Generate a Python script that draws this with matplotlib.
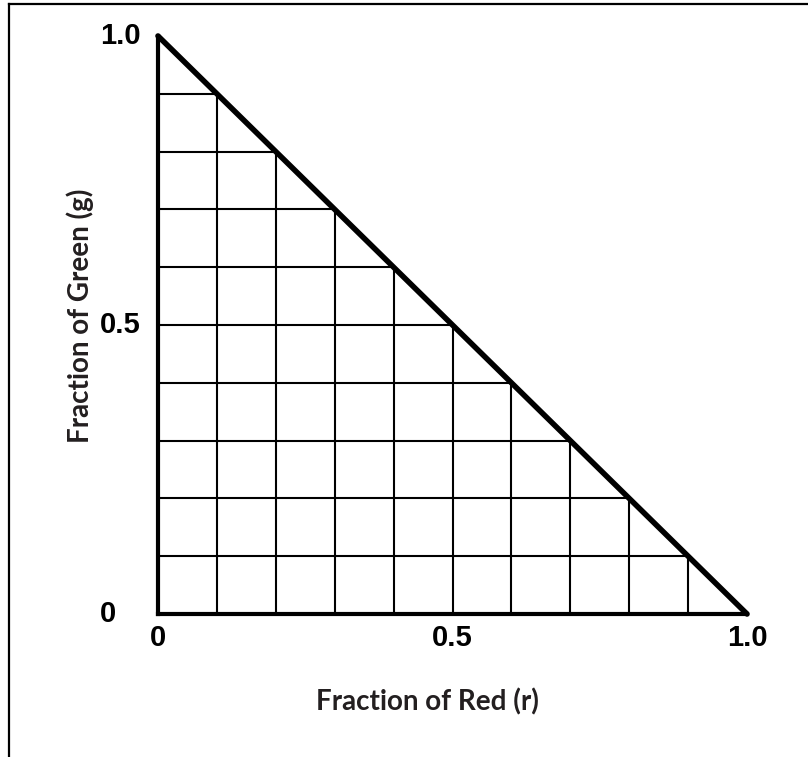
import matplotlib
matplotlib.use('Agg')
import matplotlib.pyplot as plt
from matplotlib.lines import Line2D

# chromaticity triangle, grid every 0.1
grid_vals = [0.1, 0.2, 0.3, 0.4, 0.5, 0.6, 0.7, 0.8, 0.9]
edge_r = [0.0, 1.0]
edge_g = [1.0, 0.0]
tick_vals = [0, 0.5, 1.0]
tick_labels = ['0', '0.5', '1.0']
xlabel = 'Fraction of Red (r)'
ylabel = 'Fraction of Green (g)'

W, H = 808, 757
fig = plt.figure(figsize=(W / 100, H / 100), dpi=100)
ax = fig.add_axes([158 / W, 1 - 614 / H, 589 / W, 578 / H])
ax.set_xlim(0, 1)
ax.set_ylim(0, 1)
ax.axis('off')

# grid lines stop at the diagonal
for v in grid_vals:
    ax.plot([v, v], [0, 1 - v], color='black', lw=1.5, solid_capstyle='butt')
    ax.plot([0, 1 - v], [v, v], color='black', lw=1.5, solid_capstyle='butt')

ax.plot([0, 1], [0, 0], color='black', lw=3, solid_capstyle='projecting', clip_on=False)
ax.plot([0, 0], [0, 1], color='black', lw=3, solid_capstyle='projecting', clip_on=False)
ax.plot(edge_r, edge_g, color='black', lw=4, solid_capstyle='round', clip_on=False)

tick_font = dict(family=['Liberation Sans', 'DejaVu Sans'], weight='bold',
                 size=21, color='black')
for v, lab in zip(tick_vals, tick_labels):
    ax.text(v, -0.018, lab, transform=ax.get_xaxis_transform(), ha='center', va='top', **tick_font)
    ax.text(-0.099, v, lab, transform=ax.get_yaxis_transform(), ha='left', va='center', **tick_font)

label_font = dict(family=['Lato', 'DejaVu Sans'], weight='bold', size=20, color='#231f20')
fig.text(427 / W, 1 - 702 / H, xlabel, ha='center', va='center', **label_font)
fig.text(80 / W, 1 - 316 / H, ylabel, ha='center', va='center', rotation=90, **label_font)

# outer frame (top and left edges visible)
fig.add_artist(Line2D([9 / W, 1], [1 - 4 / H, 1 - 4 / H], transform=fig.transFigure, color='black', lw=1.6))
fig.add_artist(Line2D([9 / W, 9 / W], [0, 1 - 4 / H], transform=fig.transFigure, color='black', lw=1.6))

fig.savefig('out.png', dpi=100)
